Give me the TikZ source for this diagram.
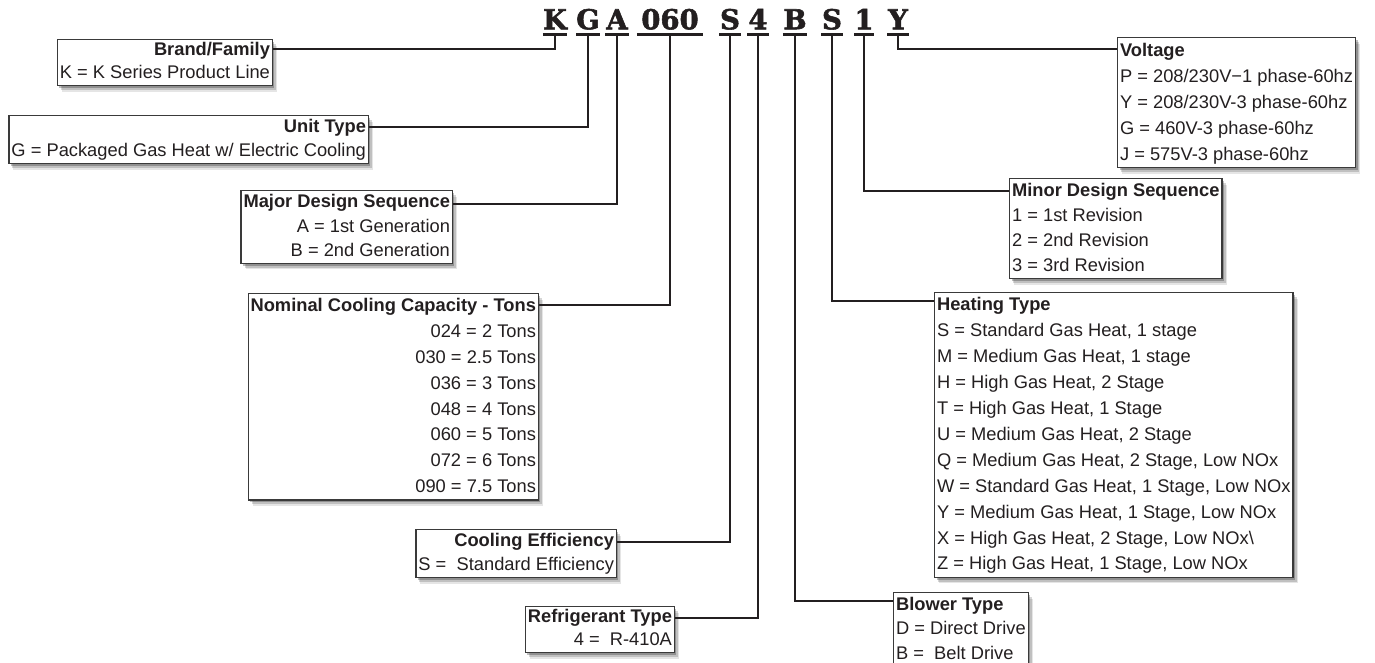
\documentclass[tikz,border=0pt]{standalone}
\usepackage{fontspec}
\setmainfont{Liberation Sans}
\newfontfamily\codefont{DejaVu Serif}[BoldFeatures={FakeBold=2}]
\usetikzlibrary{shadows}
\definecolor{ink}{HTML}{231F20}
\definecolor{frame}{HTML}{3A3A3A}
\newlength\lsh
\setlength\lsh{25.8pt}
\newcommand\ls{\rule[-0.29\lsh]{0pt}{\lsh}}
\tikzset{
  lh/.code={\setlength\lsh{#1}},
  box/.style={draw=frame, line width=1.1pt, fill=white, text=ink,
    inner xsep=2.5pt, inner ysep=0pt, lh=25.8pt,
    font=\fontsize{18.3}{\lsh}\selectfont,
    drop shadow={shadow xshift=4.5pt, shadow yshift=-6pt, opacity=.10, fill=black},
    drop shadow={shadow xshift=3.5pt, shadow yshift=-4.5pt, opacity=.16, fill=black},
    drop shadow={shadow xshift=2pt, shadow yshift=-2.5pt, opacity=.25, fill=black}},
  lbox/.style={box, anchor=north east, align=right},
  rbox/.style={box, anchor=north west, align=left},
  code/.style={font=\codefont\bfseries\fontsize{27.5}{30}\selectfont, text=ink,
    inner xsep=0pt, inner ysep=4.5pt, text depth=0pt, anchor=south},
  bar/.style={line width=3pt, ink},
  conn/.style={line width=2.4pt, ink},
}
\begin{document}
\begin{tikzpicture}[x=1pt, y=-1pt]
\useasboundingbox (0,0) rectangle (1375,662);

% code letters
\node[code, minimum width=20pt] (cK) at (555,34) {K};
\node[code, minimum width=23pt] (cG) at (588,34) {G};
\node[code, minimum width=23pt] (cA) at (617,34) {A};
\node[code, minimum width=66pt] (cN) at (670,34) {060};
\node[code, minimum width=21pt] (cS) at (730,34) {S};
\node[code, minimum width=21pt] (cF) at (758,34) {4};
\node[code, minimum width=24pt] (cB) at (795,34) {B};
\node[code, minimum width=21pt] (cH) at (832,34) {S};
\node[code, minimum width=15pt] (cM) at (864,34) {1};
\node[code, minimum width=21pt] (cY) at (898,34) {Y};
\foreach \n in {cK,cG,cA,cN,cS,cF,cB,cH,cM,cY}
  \draw[bar] (\n.south west) -- (\n.south east);

% boxes
\node[lbox, lh=23pt] (brand) at (273,39) {\ls\textbf{Brand/Family}\\\ls K = K Series Product Line};
\node[lbox, lh=24pt] (unit) at (369,115) {\ls\textbf{Unit Type}\\\ls G = Packaged Gas Heat w/ Electric Cooling};
\node[lbox, lh=24.3pt] (major) at (453,190) {\ls\textbf{Major Design Sequence}\\\ls A = 1st Generation\\\ls B = 2nd Generation};
\node[lbox] (nominal) at (539,293) {\ls\textbf{Nominal Cooling Capacity - Tons}\\\ls 024 = 2 Tons\\\ls 030 = 2.5 Tons\\\ls 036 = 3 Tons\\\ls 048 = 4 Tons\\\ls 060 = 5 Tons\\\ls 072 = 6 Tons\\\ls 090 = 7.5 Tons};
\node[lbox, lh=24pt] (cooleff) at (617,529) {\ls\textbf{Cooling Efficiency}\\\ls S = \ Standard Efficiency};
\node[lbox, lh=23pt] (refrig) at (675,606) {\ls\textbf{Refrigerant Type}\\\ls 4 = \ R-410A};

\node[rbox, lh=26pt] (volt) at (1117,37) {\ls\textbf{Voltage}\\\ls P = 208/230V−1 phase-60hz\\\ls Y = 208/230V-3 phase-60hz\\\ls G = 460V-3 phase-60hz\\\ls J = 575V-3 phase-60hz};
\node[rbox, lh=25pt] (minor) at (1009,178) {\ls\textbf{Minor Design Sequence}\\\ls 1 = 1st Revision\\\ls 2 = 2nd Revision\\\ls 3 = 3rd Revision};
\node[rbox, lh=25.9pt] (heat) at (934,292) {\ls\textbf{Heating Type}\\\ls S = Standard Gas Heat, 1 stage\\\ls M = Medium Gas Heat, 1 stage\\\ls H = High Gas Heat, 2 Stage\\\ls T = High Gas Heat, 1 Stage\\\ls U = Medium Gas Heat, 2 Stage\\\ls Q = Medium Gas Heat, 2 Stage, Low NOx\\\ls W = Standard Gas Heat, 1 Stage, Low NOx\\\ls Y = Medium Gas Heat, 1 Stage, Low NOx\\\ls X = High Gas Heat, 2 Stage, Low NOx\textbackslash\\\ls Z = High Gas Heat, 1 Stage, Low NOx};
\node[rbox, lh=24.6pt] (blower) at (893,592) {\ls\textbf{Blower Type}\\\ls D = Direct Drive\\\ls B = \ Belt Drive};

% connectors
\draw[conn] (cK.south) |- ([yshift=-10pt]brand.north east);
\draw[conn] (cG.south) |- ([yshift=-12pt]unit.north east);
\draw[conn] (cA.south) |- ([yshift=-14pt]major.north east);
\draw[conn] (cN.south) |- ([yshift=-12pt]nominal.north east);
\draw[conn] (cS.south) |- ([yshift=-13pt]cooleff.north east);
\draw[conn] (cF.south) |- ([yshift=-12pt]refrig.north east);
\draw[conn] (cB.south) |- ([yshift=-9pt]blower.north west);
\draw[conn] (cH.south) |- ([yshift=-9pt]heat.north west);
\draw[conn] (cM.south) |- ([yshift=-13pt]minor.north west);
\draw[conn] (cY.south) |- ([yshift=-12pt]volt.north west);
\end{tikzpicture}
\end{document}
